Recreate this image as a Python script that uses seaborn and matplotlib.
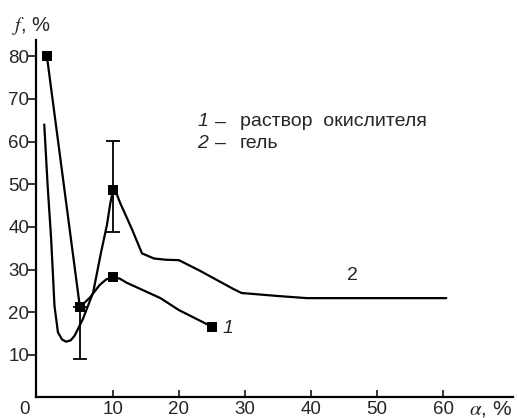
import matplotlib
matplotlib.use("Agg")
import matplotlib.pyplot as plt
import seaborn as sns
import pandas as pd

# curve 1 (solution of oxidiser): measured points and the drawn line
c1_x = [0, 5, 10, 25]
c1_y = [80, 21.2, 28.2, 16.6]
c1_line_x = [0, 5, 6.5, 8, 9, 10, 11, 12.1, 17.2, 20, 25]
c1_line_y = [80, 21.2, 23.4, 26.4, 27.7, 28.2, 27.9, 26.9, 23.3, 20.5, 16.6]

# curve 2 (gel)
c2_x = [-0.4, 0.1, 0.65, 1.15, 1.67, 2.3, 2.9, 3.6, 4.2, 5.45, 7.0, 8.2, 9.1,
        9.6, 10.0, 10.5, 11.1, 12.9, 14.4, 16.2, 18.0, 20.0, 23.2, 28.3, 29.5,
        35.0, 39.4, 60.5]
c2_y = [64, 50, 37, 21.5, 15.3, 13.6, 13.1, 13.4, 14.5, 18.4, 24.6, 34.0, 40.5,
        45.5, 48.5, 48.0, 45.6, 39.4, 33.8, 32.6, 32.3, 32.2, 29.7, 25.4, 24.5,
        23.8, 23.3, 23.3]
c2_mark_x = [10]
c2_mark_y = [48.7]

# error bars
err_x = [5, 10]
err_mid = [21.2, 48.7]
err_lo = [9.1, 38.7]
err_hi = [21.2, 60.2]

x_ticks = [10, 20, 30, 40, 50, 60]
y_ticks = [10, 20, 30, 40, 50, 60, 70, 80]

sns.set_style("ticks")
plt.rcParams["font.family"] = ["Liberation Sans", "DejaVu Sans"]
plt.rcParams["mathtext.fontset"] = "stix"

fig = plt.figure(figsize=(5.17, 4.18), dpi=100)
ax = fig.add_axes([36 / 517, 21.3 / 418, 477 / 517, 356.7 / 418])

df1 = pd.DataFrame({"x": c1_line_x, "y": c1_line_y})
df2 = pd.DataFrame({"x": c2_x, "y": c2_y})
sns.lineplot(data=df1, x="x", y="y", sort=False, color="black", lw=1.6, ax=ax)
sns.lineplot(data=df2, x="x", y="y", sort=False, color="black", lw=1.6, ax=ax)

lo = [m - l for m, l in zip(err_mid, err_lo)]
hi = [h - m for m, h in zip(err_mid, err_hi)]
ax.errorbar(err_x, err_mid, yerr=[lo, hi], fmt="none", ecolor="black",
            elinewidth=1.3, capsize=5, capthick=1.3)

marks = pd.DataFrame({"x": c1_x + c2_mark_x, "y": c1_y + c2_mark_y})
sns.scatterplot(data=marks, x="x", y="y", marker="s", s=62, color="black",
                edgecolor="black", linewidth=0, zorder=5, ax=ax)

ax.set_xlim(-1.65, 70.6)
ax.set_ylim(0.2, 83.8)
ax.set_xticks(x_ticks)
ax.set_yticks(y_ticks)
ax.set_xticklabels([str(v) for v in x_ticks], fontsize=13.5)
ax.set_yticklabels([str(v) for v in y_ticks], fontsize=13.5)
ax.tick_params(axis="x", direction="in", length=5, width=1.3, pad=3)
ax.tick_params(axis="y", direction="out", length=6, width=1.3, pad=-1)
ax.set_xlabel("")
ax.set_ylabel("")
sns.despine(ax=ax)
for s in ["left", "bottom"]:
    ax.spines[s].set_linewidth(1.6)
    ax.spines[s].set_color("black")

# axis captions and the origin zero
fig.text(12 / 517, 1 - 26 / 418, r"$f$, %", fontsize=14.5, va="center", ha="left")
fig.text(512 / 517, 1 - 409 / 418, r"$\alpha$, %", fontsize=15, va="center", ha="right")
fig.text(25 / 517, 1 - 409 / 418, "0", fontsize=13.5, va="center", ha="center")

# legend written as text
ax.text(22.8, 64.6, "1", fontsize=14, style="italic", va="center")
ax.text(25.5, 64.6, "–", fontsize=14, va="center")
ax.text(29.2, 64.6, "раствор  окислителя", fontsize=14, va="center")
ax.text(22.8, 59.6, "2", fontsize=14, style="italic", va="center")
ax.text(25.5, 59.6, "–", fontsize=14, va="center")
ax.text(29.2, 59.6, "гель", fontsize=14, va="center")

# curve labels
ax.text(46.3, 28.7, "2", fontsize=14, ha="center", va="center")
ax.text(27.4, 16.1, "1", fontsize=14, style="italic", ha="center", va="center")

fig.savefig("out.png", dpi=100)
